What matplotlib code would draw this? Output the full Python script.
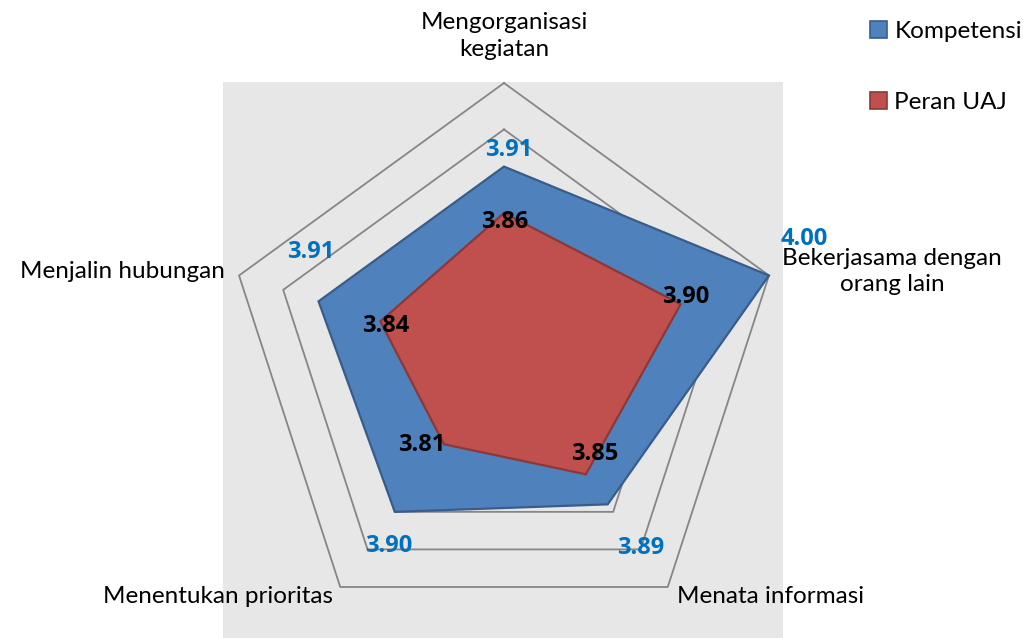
import numpy as np
import matplotlib
matplotlib.use("Agg")
import matplotlib.pyplot as plt
from matplotlib.patches import Rectangle, Patch

categories = ["Mengorganisasi\nkegiatan", "Bekerjasama dengan\norang lain",
              "Menata informasi", "Menentukan prioritas", "Menjalin hubungan"]
kompetensi = [3.91, 4.00, 3.89, 3.90, 3.91]
peran_uaj = [3.86, 3.90, 3.85, 3.81, 3.84]
series_names = ["Kompetensi", "Peran UAJ"]
r_min, r_max = 3.70, 4.00
ring_levels = [3.75, 3.80, 3.85, 3.90, 3.95, 4.00]

W, H, DPI = 1023, 638, 100
plt.rcParams['font.family'] = ['Lato', 'DejaVu Sans']
BOLD_FAMILY = ['Open Sans', 'Noto Sans', 'DejaVu Sans']

fig = plt.figure(figsize=(W / DPI, H / DPI), dpi=DPI)
fig.patch.set_facecolor('white')

# gray plot-area background
fig.patches.append(Rectangle((223 / W, 0), (783 - 223) / W, (638 - 82) / H,
                             transform=fig.transFigure, facecolor='#E7E7E7',
                             edgecolor='none', zorder=-10))

cx, cy, R = 504, 361.6, 278.6
ax = fig.add_axes([(cx - R) / W, (H - cy - R) / H, 2 * R / W, 2 * R / H],
                  projection='polar')
ax.set_zorder(1)
ax.set_facecolor('none')
ax.set_theta_zero_location('N')
ax.set_theta_direction(-1)
ax.set_ylim(r_min, r_max)
ax.grid(False)
ax.set_xticks([])
ax.set_yticks([])
ax.spines['polar'].set_visible(False)

n = len(categories)
theta = np.arange(n) * 2 * np.pi / n
tc = np.append(theta, theta[0])

for lv in ring_levels:
    ax.plot(tc, [lv] * (n + 1), color='#868686', lw=1.3, zorder=1, clip_on=False)

blue_f, blue_e = '#4F81BD', '#385D8A'
red_f, red_e = '#C0504D', '#8C3836'
ax.fill(tc, np.append(kompetensi, kompetensi[0]), facecolor=blue_f,
        edgecolor=blue_e, lw=1.6, zorder=2, clip_on=False)
ax.fill(tc, np.append(peran_uaj, peran_uaj[0]), facecolor=red_f,
        edgecolor=red_e, lw=1.6, zorder=3, clip_on=False)

blue_off = [(5, 17), (35, 37), (33, -44), (-6, -34), (-8, 49)]
red_off = [(1, -9), (5, 7), (9, 20), (-22, -1), (5, -5)]
for t, v, o in zip(theta, kompetensi, blue_off):
    ax.annotate(f"{v:.2f}", xy=(t, v), xytext=o, textcoords='offset pixels',
                ha='center', va='center', fontsize=17, fontweight='bold',
                family=BOLD_FAMILY, color='#0070C0', zorder=5,
                annotation_clip=False)
for t, v, o in zip(theta, peran_uaj, red_off):
    ax.annotate(f"{v:.2f}", xy=(t, v), xytext=o, textcoords='offset pixels',
                ha='center', va='center', fontsize=17, fontweight='bold',
                family=BOLD_FAMILY, color='black', zorder=5,
                annotation_clip=False)

cat_off = [((0, 47), 'center'), ((123, 4), 'center'), ((9, -10), 'left'),
           ((-7, -10), 'right'), ((-14, 4), 'right')]
for t, c, (o, ha) in zip(theta, categories, cat_off):
    ax.annotate(c, xy=(t, r_max), xytext=o, textcoords='offset pixels',
                ha=ha, va='center', fontsize=17.5, color='black',
                linespacing=1.3, zorder=6, annotation_clip=False)

handles = [Patch(facecolor=blue_f, edgecolor=blue_e, lw=1.2),
           Patch(facecolor=red_f, edgecolor=red_e, lw=1.2)]
fig.legend(handles, series_names, loc='upper left',
           bbox_to_anchor=(870 / W, 1 - 21 / H), frameon=False, fontsize=17.5,
           handlelength=0.7, handleheight=0.7, handletextpad=0.3,
           labelspacing=2.05, borderpad=0, borderaxespad=0)

fig.savefig('out.png', dpi=DPI)
